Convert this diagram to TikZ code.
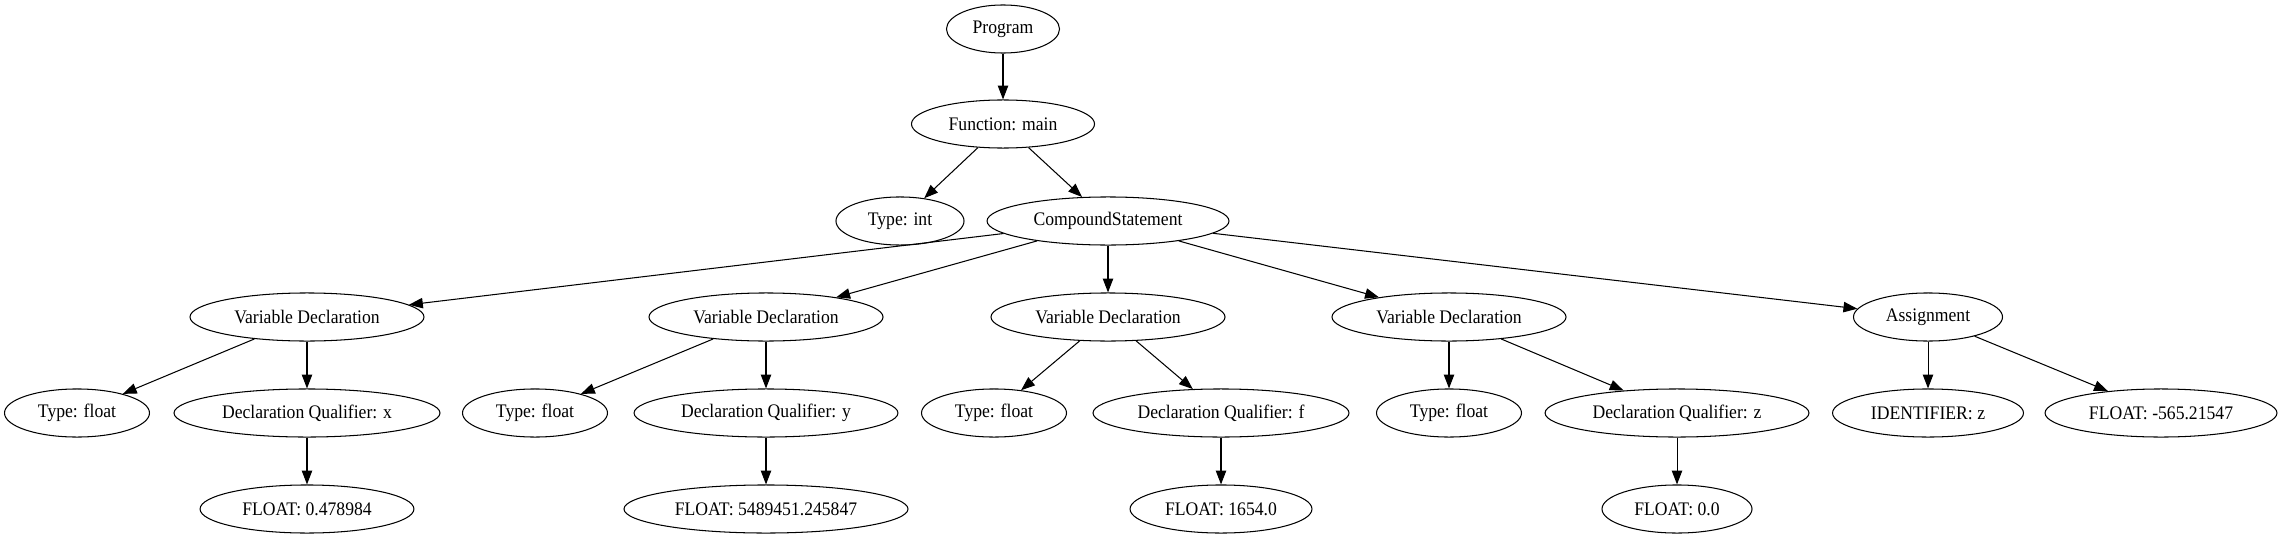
\documentclass[tikz,border=0pt]{standalone}
\usepackage{fontspec}
\setmainfont{Liberation Serif}[FakeStretch=0.92]
\usetikzlibrary{arrows.meta,shapes.geometric}
\begin{document}
\begin{tikzpicture}[x=0.72pt,y=-0.72pt,
  nd/.style={draw,ellipse,line width=0.75pt,inner sep=0pt,minimum height=34.6pt,font=\fontsize{13.8}{16}\selectfont},
  edge/.style={line width=0.75pt,-{Triangle[length=10pt,width=7.5pt]}}]
\useasboundingbox (0,0) rectangle (2283,539);
\node[nd,minimum width=81.4pt] (prog) at (1003,29) {Program};
\node[nd,minimum width=131.8pt] (func) at (1003,124) {Function: main};
\node[nd,minimum width=92.2pt] (tint) at (900,221) {Type: int};
\node[nd,minimum width=174.2pt] (cs) at (1108,221) {CompoundStatement};
\node[nd,minimum width=168.5pt] (vd1) at (307,317) {Variable Declaration};
\node[nd,minimum width=168.5pt] (vd2) at (766,317) {Variable Declaration};
\node[nd,minimum width=168.5pt] (vd3) at (1108,317) {Variable Declaration};
\node[nd,minimum width=168.5pt] (vd4) at (1449,317) {Variable Declaration};
\node[nd,minimum width=107.3pt] (asg) at (1928,317) {Assignment};
\node[nd,minimum width=104.4pt] (tf1) at (77,413) {Type: float};
\node[nd,minimum width=191.5pt] (dqx) at (307,413) {Declaration Qualifier: x};
\node[nd,minimum width=104.4pt] (tf2) at (535,413) {Type: float};
\node[nd,minimum width=190pt] (dqy) at (766,413) {Declaration Qualifier: y};
\node[nd,minimum width=104.4pt] (tf3) at (994,413) {Type: float};
\node[nd,minimum width=184.3pt] (dqf) at (1221,413) {Declaration Qualifier: f};
\node[nd,minimum width=104.4pt] (tf4) at (1449,413) {Type: float};
\node[nd,minimum width=190pt] (dqz) at (1677,413) {Declaration Qualifier: z};
\node[nd,minimum width=137.5pt] (idz) at (1928,413) {IDENTIFIER: z};
\node[nd,minimum width=167pt] (fneg) at (2161,413) {FLOAT: -565.21547};
\node[nd,minimum width=154pt] (f1) at (307,509) {FLOAT: 0.478984};
\node[nd,minimum width=204.5pt] (f2) at (766,509) {FLOAT: 5489451.245847};
\node[nd,minimum width=131pt] (f3) at (1221,509) {FLOAT: 1654.0};
\node[nd,minimum width=108pt] (f4) at (1677,509) {FLOAT: 0.0};
\draw[edge] (prog) -- (func);
\draw[edge] (func) -- (tint);
\draw[edge] (func) -- (cs);
\draw[edge] (cs) -- (vd1);
\draw[edge] (cs) -- (vd2);
\draw[edge] (cs) -- (vd3);
\draw[edge] (cs) -- (vd4);
\draw[edge] (cs) -- (asg);
\draw[edge] (vd1) -- (tf1);
\draw[edge] (vd1) -- (dqx);
\draw[edge] (dqx) -- (f1);
\draw[edge] (vd2) -- (tf2);
\draw[edge] (vd2) -- (dqy);
\draw[edge] (dqy) -- (f2);
\draw[edge] (vd3) -- (tf3);
\draw[edge] (vd3) -- (dqf);
\draw[edge] (dqf) -- (f3);
\draw[edge] (vd4) -- (tf4);
\draw[edge] (vd4) -- (dqz);
\draw[edge] (dqz) -- (f4);
\draw[edge] (asg) -- (idz);
\draw[edge] (asg) -- (fneg);
\end{tikzpicture}
\end{document}
